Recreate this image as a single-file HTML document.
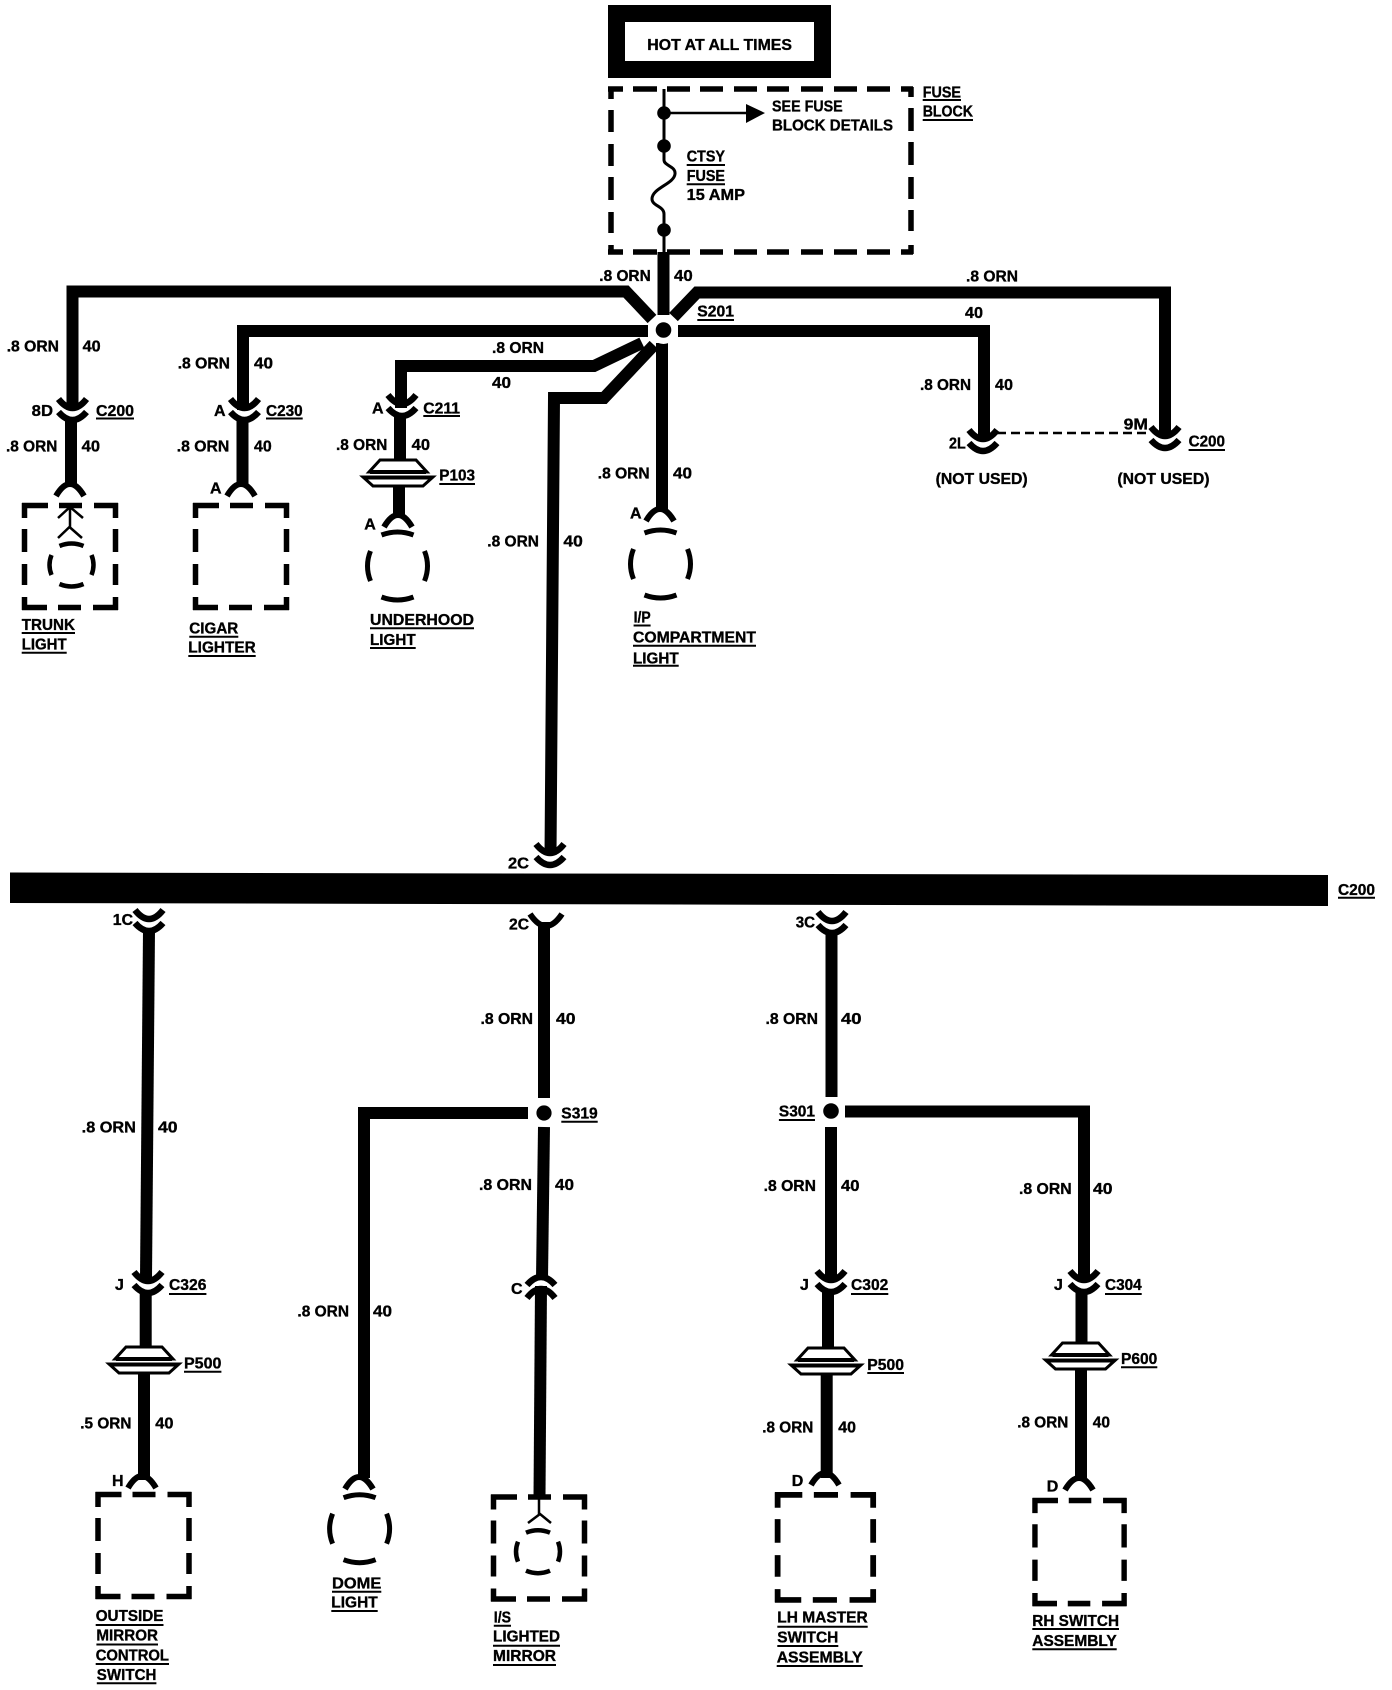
<!DOCTYPE html>
<html><head><meta charset="utf-8"><title>Courtesy lamp wiring</title>
<style>
html,body{margin:0;padding:0;background:#fff}
svg{display:block}
text{font-family:"Liberation Sans",Arial,sans-serif;font-weight:bold;font-size:16px;fill:#000;stroke:#000;stroke-width:.35}
</style></head><body>
<svg xmlns="http://www.w3.org/2000/svg" width="1392" height="1690" viewBox="0 0 1392 1690">
<defs>
<g id="cc" fill="none" stroke="#000" stroke-width="6.5"><path d="M-14,-15Q0,3 14,-15"/><path d="M-14,-2Q0,14 14,-2"/></g>
<path id="cap" d="M-14,12Q0,-12 14,12" fill="none" stroke="#000" stroke-width="6"/>
<g id="box" fill="none" stroke="#000" stroke-width="5.5"><path d="M0,2.5H26M37,2.5H60M72,2.5H96M0,104.5H25M36,104.5H59M71,104.5H96M2.5,0V15M2.5,26V49M2.5,61V82M2.5,94V107M93.5,0V15M93.5,26V49M93.5,61V82M93.5,94V107"/></g>
<g id="bulbL" fill="none" stroke="#000" stroke-width="5"><path d="M-16,-31Q0,-37 16,-31M-16,31Q0,37 16,31M-27,-15Q-33,0 -27,15M27,-15Q33,0 27,15"/></g>
<g id="bulbS" fill="none" stroke="#000" stroke-width="4.5"><path d="M-12,-19Q0,-24 12,-19M-12,19Q0,24 12,19M-20,-10Q-24,0 -20,10M20,-10Q24,0 20,10"/></g>
<g id="pig" fill="#fff" stroke="#000" stroke-width="3"><path d="M-29,12L-18,0H18L29,12Z"/><path d="M-35,17H35L25,26H-25Z"/><path d="M-28,12H28" stroke-width="4"/><path d="M-33,17.5H33" stroke-width="4"/></g>
</defs>

<!-- power box -->
<rect x="608" y="5" width="223" height="73" fill="#000"/>
<rect x="625" y="22" width="189" height="39" fill="#fff"/>

<!-- fuse block dashed -->
<g fill="none" stroke="#000" stroke-width="5.5">
<path d="M608,89H623M633,89H657M667,89H690M700,89H723M734,89H757M767,89H789M801,89H823M834,89H857M867,89H890M901,89H913"/>
<path d="M608,252H623M633,252H657M667,252H690M700,252H723M734,252H757M767,252H789M801,252H823M834,252H857M867,252H890M901,252H913"/>
<path d="M611,87V99M611,110V132M611,144V166M611,177V200M611,212V233M611,245V254"/>
<path d="M911,87V97M911,108V131M911,142V165M911,177V199M911,210V231M911,245V254"/>
</g>
<path d="M664,89V160C664,166 676,166 675,174C674,184 652,188 652,199C652,206 664,206 664,214V252" fill="none" stroke="#000" stroke-width="3"/>
<circle cx="664" cy="113" r="6.8"/><circle cx="664" cy="146" r="6.8"/><circle cx="664" cy="230" r="6.8"/>
<path d="M664,113H748" stroke="#000" stroke-width="2.5"/><path d="M746,104L765,113L746,123Z"/>

<!-- thick wires top -->
<g fill="none" stroke="#000" stroke-width="12" stroke-linejoin="miter">
<path d="M652,319L626,291.5H72.5V410"/>
<path d="M71,418V487"/>
<path d="M648,331H243V410"/>
<path d="M242.5,418V487"/>
<path d="M642,343L594,366H401V408"/>
<path d="M400,414V461"/>
<path d="M399,486V518"/>
<path d="M663.5,252V315"/>
<path d="M662,343V512"/>
<path d="M654,345L604,398H554L550.5,855"/>
<path d="M673.5,317L697,292.5H1165V438"/>
<path d="M678,331H984V440"/>
</g>
<circle cx="663.5" cy="330" r="14" fill="#fff"/><circle cx="663.5" cy="330" r="7.8"/>

<!-- top connectors -->
<use href="#cc" x="72.5" y="414"/>
<use href="#cc" x="244.5" y="414"/>
<use href="#cc" x="402" y="410"/>
<use href="#cc" x="983" y="445"/>
<use href="#cc" x="1165" y="442"/>
<use href="#cc" x="550" y="859"/>
<path d="M997,433H1149" stroke="#000" stroke-width="2.5" stroke-dasharray="9 5" fill="none"/>
<use href="#cap" x="70" y="484"/>
<use href="#cap" x="241" y="484"/>
<use href="#cap" x="398" y="515"/>
<use href="#cap" x="660" y="509"/>
<use href="#pig" x="398" y="460"/>

<!-- devices top -->
<use href="#box" x="22" y="503"/>
<use href="#box" x="193" y="503"/>
<path d="M70,507V528M58,518L70,507L83,518M58,538L69.5,527L82,538" fill="none" stroke="#000" stroke-width="2.5"/>
<use href="#bulbS" x="71.5" y="565"/>
<use href="#bulbL" x="397.5" y="566"/>
<use href="#bulbL" x="660.5" y="564"/>

<!-- C200 bar -->
<path d="M10,872.5L1328,875V906L10,903Z"/>

<!-- bottom wires -->
<g fill="none" stroke="#000" stroke-width="12">
<path d="M149,930L146,1278"/>
<path d="M145.7,1292V1348"/>
<path d="M144,1374V1480"/>
<path d="M544,922V1098"/>
<path d="M544,1127L542,1279"/>
<path d="M541,1286L539.5,1497"/>
<path d="M528,1113H364V1478" />
<path d="M831.5,932V1097"/>
<path d="M831,1127V1280"/>
<path d="M828,1292V1349"/>
<path d="M826.7,1375V1478"/>
<path d="M845,1111.5H1084V1280"/>
<path d="M1081.5,1292V1344"/>
<path d="M1081,1370V1480"/>
</g>
<path d="M530,914Q546,938 562,914" fill="none" stroke="#000" stroke-width="6"/>
<circle cx="544" cy="1113" r="7.6"/>
<circle cx="831" cy="1111" r="7.8"/>

<!-- bottom connectors -->
<use href="#cc" x="149" y="925"/>
<use href="#cc" x="832" y="927"/>
<use href="#cc" x="148" y="1287"/>
<use href="#cc" x="831" y="1286"/>
<use href="#cc" x="1084" y="1286"/>
<use href="#cc" transform="translate(541,1283) scale(1,-1)"/>
<use href="#cap" x="142" y="1476"/>
<use href="#cap" x="359" y="1477"/>
<use href="#cap" x="825" y="1473"/>
<use href="#cap" x="1079" y="1478"/>
<use href="#pig" x="144" y="1347"/>
<use href="#pig" x="826" y="1348"/>
<use href="#pig" x="1080.5" y="1343"/>

<!-- devices bottom -->
<use href="#box" x="95.5" y="1492"/>
<use href="#box" x="491" y="1494.5"/>
<use href="#box" transform="translate(775,1492.3) scale(1.05,1.03)"/>
<use href="#box" transform="translate(1032.5,1498) scale(.98,1.01)"/>
<path d="M539,1497V1515M528,1523L540,1514L551,1523" fill="none" stroke="#000" stroke-width="2.5"/>
<use href="#bulbS" x="538" y="1551.7"/>
<use href="#bulbL" x="359.6" y="1528.7"/>

<!-- underlines -->
<path fill="none" stroke="#000" stroke-width="2" d="M922.7,100H961M922.7,120H973M686.7,165H725M686.7,184.3H725M697.3,320H734M96,418.5H134M266,418.5H302.7M423.3,416H460M439.3,484H475M21.7,633H75M21.7,652.7H66.7M189.3,636.7H238.3M188.3,656H255.7M370,628.3H474M370,648H415.7M633.6,625.5H650.6M633,645.7H756M633,665.7H678.7M1188.6,450H1225M1338,897.7H1375M561.3,1121.7H597.7M778.9,1120H815M169,1294H206.4M184,1371.7H221.4M95.7,1625H163.5M96.4,1644.5H158M95.7,1664H169M96.8,1683.3H156.4M332,1591.7H381.3M331.3,1611H377.7M493.8,1625.7H511M493,1645.7H560M493,1665H556M851,1294H888.3M867.3,1373H904M777.3,1626.7H867.7M777.3,1646H838.3M776.7,1666H862.7M1105,1294H1141.7M1121,1367.3H1157.3M1032.3,1629H1119M1032.3,1649.3H1116.7"/>

<!-- labels -->
<g>
<text x="647.3" y="50" textLength="144.7" lengthAdjust="spacingAndGlyphs">HOT AT ALL TIMES</text>
<text x="772" y="111.7" textLength="70.7" lengthAdjust="spacingAndGlyphs">SEE FUSE</text>
<text x="772" y="130.7" textLength="121" lengthAdjust="spacingAndGlyphs">BLOCK DETAILS</text>
<text x="922.7" y="97.3" textLength="38.3" lengthAdjust="spacingAndGlyphs">FUSE</text>
<text x="922.7" y="116.7" textLength="50.3" lengthAdjust="spacingAndGlyphs">BLOCK</text>
<text x="686.7" y="161.7" textLength="38.3" lengthAdjust="spacingAndGlyphs">CTSY</text>
<text x="686.7" y="181" textLength="38.3" lengthAdjust="spacingAndGlyphs">FUSE</text>
<text x="686.7" y="200" textLength="58.3" lengthAdjust="spacingAndGlyphs">15 AMP</text>
<text x="599.3" y="281" textLength="51.4" lengthAdjust="spacingAndGlyphs">.8 ORN</text>
<text x="674" y="281" textLength="18.7" lengthAdjust="spacingAndGlyphs">40</text>
<text x="697.3" y="316.7" textLength="36.7" lengthAdjust="spacingAndGlyphs">S201</text>
<text x="966" y="281.7" textLength="52" lengthAdjust="spacingAndGlyphs">.8 ORN</text>
<text x="965" y="318" textLength="18" lengthAdjust="spacingAndGlyphs">40</text>
<text x="920" y="390" textLength="51" lengthAdjust="spacingAndGlyphs">.8 ORN</text>
<text x="995" y="390" textLength="18" lengthAdjust="spacingAndGlyphs">40</text>

<text x="6.7" y="351.7" textLength="52.3" lengthAdjust="spacingAndGlyphs">.8 ORN</text>
<text x="82.7" y="351.7" textLength="18" lengthAdjust="spacingAndGlyphs">40</text>
<text x="31.7" y="416" textLength="21.3" lengthAdjust="spacingAndGlyphs">8D</text>
<text x="96" y="416" textLength="38" lengthAdjust="spacingAndGlyphs">C200</text>
<text x="6" y="451.7" textLength="51.3" lengthAdjust="spacingAndGlyphs">.8 ORN</text>
<text x="81.7" y="451.7" textLength="18.3" lengthAdjust="spacingAndGlyphs">40</text>
<text x="177.7" y="368.3" textLength="52.3" lengthAdjust="spacingAndGlyphs">.8 ORN</text>
<text x="254" y="368.3" textLength="19" lengthAdjust="spacingAndGlyphs">40</text>
<text x="214" y="416">A</text>
<text x="266" y="416" textLength="36.7" lengthAdjust="spacingAndGlyphs">C230</text>
<text x="176.7" y="451.7" textLength="52.6" lengthAdjust="spacingAndGlyphs">.8 ORN</text>
<text x="254" y="451.7" textLength="17.7" lengthAdjust="spacingAndGlyphs">40</text>
<text x="210" y="493.3">A</text>
<text x="372" y="413.3">A</text>
<text x="423.3" y="413.3" textLength="36.7" lengthAdjust="spacingAndGlyphs">C211</text>
<text x="336" y="450" textLength="51.3" lengthAdjust="spacingAndGlyphs">.8 ORN</text>
<text x="411.7" y="450" textLength="18.3" lengthAdjust="spacingAndGlyphs">40</text>
<text x="439.3" y="480.7" textLength="35.7" lengthAdjust="spacingAndGlyphs">P103</text>
<text x="364.3" y="529.3">A</text>
<text x="492" y="353" textLength="52" lengthAdjust="spacingAndGlyphs">.8 ORN</text>
<text x="492" y="388" textLength="19" lengthAdjust="spacingAndGlyphs">40</text>
<text x="21.7" y="630" textLength="53.3" lengthAdjust="spacingAndGlyphs">TRUNK</text>
<text x="21.7" y="649.3" textLength="45" lengthAdjust="spacingAndGlyphs">LIGHT</text>
<text x="189.3" y="633.3" textLength="49" lengthAdjust="spacingAndGlyphs">CIGAR</text>
<text x="188.3" y="652.7" textLength="67.4" lengthAdjust="spacingAndGlyphs">LIGHTER</text>
<text x="370" y="625" textLength="104" lengthAdjust="spacingAndGlyphs">UNDERHOOD</text>
<text x="370" y="645" textLength="45.7" lengthAdjust="spacingAndGlyphs">LIGHT</text>

<text x="597.8" y="478.3" textLength="51.8" lengthAdjust="spacingAndGlyphs">.8 ORN</text>
<text x="673" y="478.3" textLength="19" lengthAdjust="spacingAndGlyphs">40</text>
<text x="630" y="518.3">A</text>
<text x="487.3" y="546.7" textLength="51.7" lengthAdjust="spacingAndGlyphs">.8 ORN</text>
<text x="563.4" y="546.7" textLength="19.4" lengthAdjust="spacingAndGlyphs">40</text>
<text x="633.6" y="622.7" textLength="17" lengthAdjust="spacingAndGlyphs">I/P</text>
<text x="633" y="642.7" textLength="123" lengthAdjust="spacingAndGlyphs">COMPARTMENT</text>
<text x="633" y="663.3" textLength="45.7" lengthAdjust="spacingAndGlyphs">LIGHT</text>
<text x="949" y="448.3" textLength="16.7" lengthAdjust="spacingAndGlyphs">2L</text>
<text x="1123.7" y="429.3" textLength="24.3" lengthAdjust="spacingAndGlyphs">9M</text>
<text x="1188.6" y="446.7" textLength="36.4" lengthAdjust="spacingAndGlyphs">C200</text>
<text x="935.6" y="484" textLength="92.1" lengthAdjust="spacingAndGlyphs">(NOT USED)</text>
<text x="1117.4" y="484" textLength="92.1" lengthAdjust="spacingAndGlyphs">(NOT USED)</text>

<text x="508" y="868.3" textLength="21" lengthAdjust="spacingAndGlyphs">2C</text>
<text x="1338" y="895" textLength="37" lengthAdjust="spacingAndGlyphs">C200</text>
<text x="112.8" y="925" textLength="20.2" lengthAdjust="spacingAndGlyphs">1C</text>
<text x="509" y="929.3" textLength="20" lengthAdjust="spacingAndGlyphs">2C</text>
<text x="795.7" y="927.3" textLength="19.3" lengthAdjust="spacingAndGlyphs">3C</text>
<text x="480.5" y="1024" textLength="52.5" lengthAdjust="spacingAndGlyphs">.8 ORN</text>
<text x="556" y="1024" textLength="19.5" lengthAdjust="spacingAndGlyphs">40</text>
<text x="765.5" y="1024" textLength="52.5" lengthAdjust="spacingAndGlyphs">.8 ORN</text>
<text x="841" y="1024" textLength="20.5" lengthAdjust="spacingAndGlyphs">40</text>
<text x="81.7" y="1132.3" textLength="54.2" lengthAdjust="spacingAndGlyphs">.8 ORN</text>
<text x="158" y="1132.3" textLength="19.6" lengthAdjust="spacingAndGlyphs">40</text>
<text x="561.3" y="1118.3" textLength="36.4" lengthAdjust="spacingAndGlyphs">S319</text>
<text x="778.9" y="1116.5" textLength="36.1" lengthAdjust="spacingAndGlyphs">S301</text>
<text x="479" y="1190" textLength="53" lengthAdjust="spacingAndGlyphs">.8 ORN</text>
<text x="555" y="1190" textLength="19" lengthAdjust="spacingAndGlyphs">40</text>
<text x="763.6" y="1191" textLength="52.4" lengthAdjust="spacingAndGlyphs">.8 ORN</text>
<text x="841" y="1191" textLength="18.5" lengthAdjust="spacingAndGlyphs">40</text>
<text x="1019" y="1194" textLength="52.6" lengthAdjust="spacingAndGlyphs">.8 ORN</text>
<text x="1093" y="1194" textLength="19.5" lengthAdjust="spacingAndGlyphs">40</text>
<text x="297.4" y="1316.7" textLength="51.6" lengthAdjust="spacingAndGlyphs">.8 ORN</text>
<text x="373" y="1316.7" textLength="19" lengthAdjust="spacingAndGlyphs">40</text>

<text x="115" y="1290">J</text>
<text x="169" y="1290" textLength="37.4" lengthAdjust="spacingAndGlyphs">C326</text>
<text x="184" y="1368.3" textLength="37.4" lengthAdjust="spacingAndGlyphs">P500</text>
<text x="80.3" y="1428.3" textLength="51.1" lengthAdjust="spacingAndGlyphs">.5 ORN</text>
<text x="155.3" y="1428.3" textLength="18.2" lengthAdjust="spacingAndGlyphs">40</text>
<text x="112" y="1486">H</text>
<text x="95.7" y="1621" textLength="67.8" lengthAdjust="spacingAndGlyphs">OUTSIDE</text>
<text x="96.4" y="1640.7" textLength="61.6" lengthAdjust="spacingAndGlyphs">MIRROR</text>
<text x="95.7" y="1660.7" textLength="73.3" lengthAdjust="spacingAndGlyphs">CONTROL</text>
<text x="96.8" y="1680" textLength="59.6" lengthAdjust="spacingAndGlyphs">SWITCH</text>
<text x="332" y="1588.3" textLength="49.3" lengthAdjust="spacingAndGlyphs">DOME</text>
<text x="331.3" y="1607.7" textLength="46.4" lengthAdjust="spacingAndGlyphs">LIGHT</text>
<text x="511" y="1294">C</text>
<text x="493.8" y="1622.3" textLength="17.2" lengthAdjust="spacingAndGlyphs">I/S</text>
<text x="493" y="1641.7" textLength="67" lengthAdjust="spacingAndGlyphs">LIGHTED</text>
<text x="493" y="1661" textLength="63" lengthAdjust="spacingAndGlyphs">MIRROR</text>

<text x="800" y="1290">J</text>
<text x="851" y="1290" textLength="37.3" lengthAdjust="spacingAndGlyphs">C302</text>
<text x="867.3" y="1370" textLength="36.7" lengthAdjust="spacingAndGlyphs">P500</text>
<text x="762.3" y="1432.7" textLength="51" lengthAdjust="spacingAndGlyphs">.8 ORN</text>
<text x="838.3" y="1432.7" textLength="17.7" lengthAdjust="spacingAndGlyphs">40</text>
<text x="791.7" y="1486">D</text>
<text x="777.3" y="1622.7" textLength="90.4" lengthAdjust="spacingAndGlyphs">LH MASTER</text>
<text x="777.3" y="1642.7" textLength="61" lengthAdjust="spacingAndGlyphs">SWITCH</text>
<text x="776.7" y="1662.7" textLength="86" lengthAdjust="spacingAndGlyphs">ASSEMBLY</text>
<text x="1054" y="1290">J</text>
<text x="1105" y="1290" textLength="36.7" lengthAdjust="spacingAndGlyphs">C304</text>
<text x="1121" y="1364" textLength="36.3" lengthAdjust="spacingAndGlyphs">P600</text>
<text x="1017.3" y="1427.7" textLength="51" lengthAdjust="spacingAndGlyphs">.8 ORN</text>
<text x="1092.7" y="1427.7" textLength="17.3" lengthAdjust="spacingAndGlyphs">40</text>
<text x="1046.7" y="1491.7">D</text>
<text x="1032.3" y="1626" textLength="86.7" lengthAdjust="spacingAndGlyphs">RH SWITCH</text>
<text x="1032.3" y="1646" textLength="84.4" lengthAdjust="spacingAndGlyphs">ASSEMBLY</text>
</g>
</svg>
</body></html>
